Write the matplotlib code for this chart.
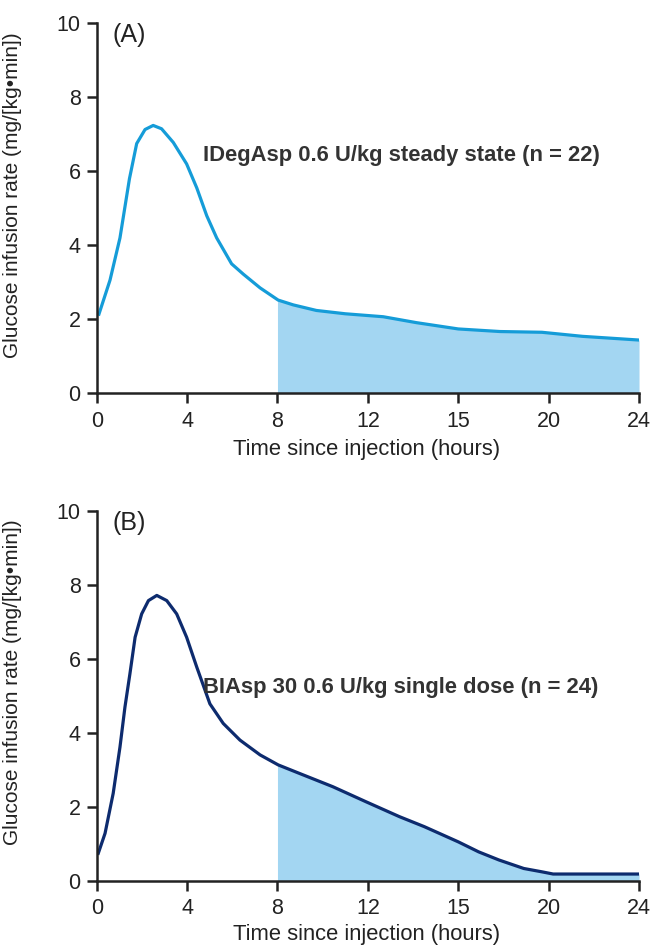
import numpy as np
import matplotlib.pyplot as plt

plt.rcParams['font.family'] = ['Liberation Sans', 'DejaVu Sans']

# x positions on the (evenly spaced) time axis; tick "15" sits at position 16
tick_pos = [0, 4, 8, 12, 16, 20, 24]
tick_labels = ['0', '4', '8', '12', '15', '20', '24']

# panel A: IDegAsp steady state
x_a = [0.1, 0.59, 1.03, 1.45, 1.77, 2.14, 2.5, 2.87, 3.39, 3.98, 4.43, 4.87,
       5.31, 5.97, 6.49, 7.23, 8.03, 8.7, 9.72, 11.0, 12.68, 14.15, 16.0,
       17.85, 19.7, 21.5, 24.0]
y_a = [2.14, 3.06, 4.2, 5.8, 6.75, 7.13, 7.24, 7.15, 6.78, 6.2, 5.55, 4.8,
       4.2, 3.5, 3.22, 2.85, 2.52, 2.39, 2.24, 2.15, 2.07, 1.91, 1.74,
       1.67, 1.65, 1.54, 1.44]

# panel B: BIAsp 30 single dose
x_b = [0.07, 0.37, 0.73, 1.03, 1.25, 1.47, 1.70, 1.99, 2.29, 2.66, 3.1, 3.54,
       3.98, 4.43, 5.01, 5.6, 6.34, 7.23, 8.03, 8.97, 10.45, 11.93, 13.4,
       14.5, 16.0, 16.9, 17.8, 18.9, 19.7, 20.2, 24.0]
y_b = [0.74, 1.28, 2.36, 3.61, 4.69, 5.59, 6.58, 7.21, 7.57, 7.71, 7.57, 7.21,
       6.58, 5.77, 4.78, 4.25, 3.8, 3.4, 3.13, 2.90, 2.54, 2.13, 1.73,
       1.46, 1.05, 0.78, 0.56, 0.33, 0.24, 0.18, 0.18]

shade_start = 8

panels = [
    ('(A)', 'IDegAsp 0.6 U/kg steady state (n = 22)', x_a, y_a, '#159cd8', 6.44, -0.123),
    ('(B)', 'BIAsp 30 0.6 U/kg single dose (n = 24)', x_b, y_b, '#0d2b6e', 5.23, -0.116),
]

fig = plt.figure(figsize=(6.52, 9.48), dpi=100)
bottoms = [0.5851, 0.0710]

for (tag, label, xs, ys, col, ty, xl_y), bot in zip(panels, bottoms):
    ax = fig.add_axes([0.1483, bot, 0.8318, 0.3903])
    xs = np.array(xs)
    ys = np.array(ys)
    # shaded region from hour 8 to the end
    xf = np.concatenate([[shade_start], xs[xs > shade_start]])
    yf = np.interp(xf, xs, ys)
    ax.fill_between(xf, 0, yf, color='#a3d6f2', lw=0, zorder=1)
    ax.plot(xs, ys, color=col, lw=2.3, zorder=3, solid_joinstyle='round')

    ax.set_xlim(0, 24)
    ax.set_ylim(0, 10)
    ax.set_xticks(tick_pos)
    ax.set_xticklabels(tick_labels)
    ax.set_yticks([0, 2, 4, 6, 8, 10])
    ax.tick_params(axis='both', labelsize=15.5, length=7.5, width=1.8,
                   colors='#222222', direction='out')
    ax.tick_params(axis='x', pad=5)
    ax.tick_params(axis='y', pad=4)
    for s in ['top', 'right']:
        ax.spines[s].set_visible(False)
    for s in ['left', 'bottom']:
        ax.spines[s].set_linewidth(1.8)
        ax.spines[s].set_color('#222222')
        ax.spines[s].set_zorder(4)

    ax.set_xlabel('Time since injection (hours)', fontsize=15.8, color='#222222')
    ax.xaxis.set_label_coords(0.498, xl_y)
    ax.set_ylabel('Glucose infusion rate (mg/[kg•min])', fontsize=15, color='#222222')
    ax.yaxis.set_label_coords(-0.138, 0.536)

    ax.text(0.68, 9.68, tag, fontsize=18, va='center', ha='left', color='#222222')
    ax.text(4.70, ty, label, fontsize=15.8, fontweight='bold', va='center',
            ha='left', color='#333333')

plt.savefig('out.png', dpi=100)
